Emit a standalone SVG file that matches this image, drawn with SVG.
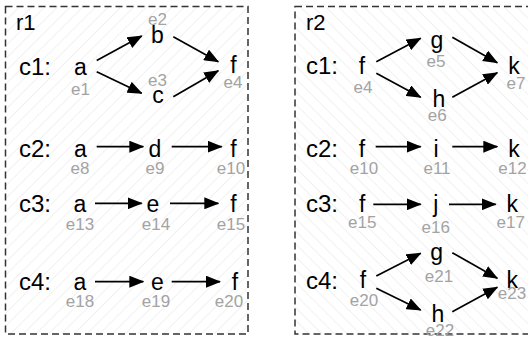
<svg xmlns="http://www.w3.org/2000/svg" width="528" height="340" viewBox="0 0 528 340">
<style>
.n{font-family:"Liberation Sans",Arial,sans-serif;font-size:23px;fill:#000;text-anchor:middle}
.lbl{font-family:"Liberation Sans",Arial,sans-serif;font-size:24px;fill:#000}
.e{font-family:"Liberation Sans",Arial,sans-serif;font-size:17px;fill:#a3a3a3;text-anchor:middle}
.reg{stroke:#333;stroke-width:1.5;stroke-dasharray:7 4}
.c line{stroke:#000;stroke-width:1.7;marker-end:url(#ah)}
</style>
<defs>
<marker id="ah" markerUnits="userSpaceOnUse" viewBox="0 0 15 12" refX="14" refY="6" markerWidth="15" markerHeight="12" orient="auto">
<path d="M0,0 L15,6 L0,12 z" fill="#000"/>
</marker>
<pattern id="h1" patternUnits="userSpaceOnUse" width="9" height="9" patternTransform="rotate(45)">
<line x1="0" y1="0" x2="0" y2="9" stroke="#e8e8e8" stroke-width="1.2"/>
</pattern>
<pattern id="h2" patternUnits="userSpaceOnUse" width="9" height="9" patternTransform="rotate(-45)">
<line x1="0" y1="0" x2="0" y2="9" stroke="#e8e8e8" stroke-width="1.2"/>
</pattern>
</defs>
<rect width="528" height="340" fill="#fff"/>
<g id="r1">
<rect x="5.5" y="6.5" width="242.5" height="327.5" fill="url(#h1)" class="reg"/>
<text class="lbl" x="16" y="29.5" style="font-size:22px">r1</text>
<text class="lbl" x="19" y="75">c1:</text>
<text class="lbl" x="19" y="157">c2:</text>
<text class="lbl" x="19" y="212">c3:</text>
<text class="lbl" x="19" y="289.5">c4:</text>
</g>
<g id="r2">
<rect x="295" y="6.5" width="245" height="327.5" fill="url(#h2)" class="reg"/>
<text class="lbl" x="306" y="29.5" style="font-size:22px">r2</text>
<text class="lbl" x="306" y="74">c1:</text>
<text class="lbl" x="306" y="157">c2:</text>
<text class="lbl" x="306" y="212">c3:</text>
<text class="lbl" x="306" y="288.5">c4:</text>
</g>
<g id="connectors" class="c">
<line x1="96.7" y1="60.5" x2="141.7" y2="36"/>
<line x1="96.7" y1="71.7" x2="141.7" y2="93.3"/>
<line x1="173.3" y1="36.7" x2="218.3" y2="61.7"/>
<line x1="173.3" y1="96.7" x2="218.3" y2="70.7"/>
<line x1="96.7" y1="146.7" x2="143.3" y2="146.7"/>
<line x1="171.7" y1="146.7" x2="221.7" y2="146.7"/>
<line x1="95" y1="203.3" x2="141.7" y2="203.3"/>
<line x1="170" y1="203.3" x2="218.3" y2="203.3"/>
<line x1="95" y1="281.7" x2="143.3" y2="281.7"/>
<line x1="171.7" y1="281.7" x2="220" y2="281.7"/>
<line x1="376.3" y1="61.7" x2="420.7" y2="38.3"/>
<line x1="376.3" y1="73.3" x2="420.7" y2="97.3"/>
<line x1="452.3" y1="37.3" x2="497.3" y2="62.7"/>
<line x1="452.3" y1="97.3" x2="497.3" y2="72.7"/>
<line x1="375.7" y1="146.7" x2="420.7" y2="146.7"/>
<line x1="452.3" y1="146.7" x2="497.3" y2="146.7"/>
<line x1="373.3" y1="204.3" x2="420.7" y2="204.3"/>
<line x1="449" y1="204.3" x2="495.7" y2="204.3"/>
<line x1="376.3" y1="276" x2="420.7" y2="253.3"/>
<line x1="376.3" y1="288.3" x2="420.7" y2="310"/>
<line x1="452.3" y1="252.7" x2="497.3" y2="278.3"/>
<line x1="452.3" y1="311.7" x2="497.3" y2="287.3"/>
</g>
<g id="r1c1a"><text class="n" x="80.5" y="75">a</text><text class="e" x="80.5" y="95">e1</text></g>
<g id="r1c1b"><text class="n" x="157.5" y="43">b</text><text class="e" x="157.5" y="24.5">e2</text></g>
<g id="r1c1c"><text class="n" x="158" y="103">c</text><text class="e" x="157.5" y="86">e3</text></g>
<g id="r1c1f"><text class="n" x="233.5" y="73">f</text><text class="e" x="233" y="88">e4</text></g>
<g id="r1c2a"><text class="n" x="80.5" y="157">a</text><text class="e" x="80" y="174">e8</text></g>
<g id="r1c2d"><text class="n" x="155" y="157">d</text><text class="e" x="155" y="174">e9</text></g>
<g id="r1c2f"><text class="n" x="233.5" y="157">f</text><text class="e" x="231" y="174">e10</text></g>
<g id="r1c3a"><text class="n" x="80" y="212">a</text><text class="e" x="80" y="230">e13</text></g>
<g id="r1c3e"><text class="n" x="153" y="212">e</text><text class="e" x="156" y="230">e14</text></g>
<g id="r1c3f"><text class="n" x="233.5" y="212">f</text><text class="e" x="231" y="230">e15</text></g>
<g id="r1c4a"><text class="n" x="80" y="289.5">a</text><text class="e" x="80" y="307">e18</text></g>
<g id="r1c4e"><text class="n" x="157.5" y="289.5">e</text><text class="e" x="156" y="307">e19</text></g>
<g id="r1c4f"><text class="n" x="235" y="289.5">f</text><text class="e" x="229" y="307">e20</text></g>
<g id="r2c1f"><text class="n" x="362" y="74">f</text><text class="e" x="363" y="93">e4</text></g>
<g id="r2c1g"><text class="n" x="437" y="47.5">g</text><text class="e" x="436" y="66.7">e5</text></g>
<g id="r2c1h"><text class="n" x="439" y="106.7">h</text><text class="e" x="437.3" y="121">e6</text></g>
<g id="r2c1k"><text class="n" x="514" y="74">k</text><text class="e" x="516" y="89.3">e7</text></g>
<g id="r2c2f"><text class="n" x="362" y="157">f</text><text class="e" x="364" y="174">e10</text></g>
<g id="r2c2i"><text class="n" x="436" y="157">i</text><text class="e" x="437" y="174">e11</text></g>
<g id="r2c2k"><text class="n" x="514" y="157">k</text><text class="e" x="512.5" y="174">e12</text></g>
<g id="r2c3f"><text class="n" x="362.3" y="212">f</text><text class="e" x="362.3" y="228.3">e15</text></g>
<g id="r2c3j"><text class="n" x="435.7" y="212">j</text><text class="e" x="435.7" y="233.3">e16</text></g>
<g id="r2c3k"><text class="n" x="512.3" y="212">k</text><text class="e" x="510.7" y="228.3">e17</text></g>
<g id="r2c4f"><text class="n" x="363" y="288.3">f</text><text class="e" x="364" y="306">e20</text></g>
<g id="r2c4g"><text class="n" x="436.7" y="260">g</text><text class="e" x="439" y="281.7">e21</text></g>
<g id="r2c4h"><text class="n" x="438" y="321.7">h</text><text class="e" x="440" y="335.7">e22</text></g>
<g id="r2c4k"><text class="n" x="512.3" y="288.3">k</text><text class="e" x="512" y="299">e23</text></g>
</svg>
